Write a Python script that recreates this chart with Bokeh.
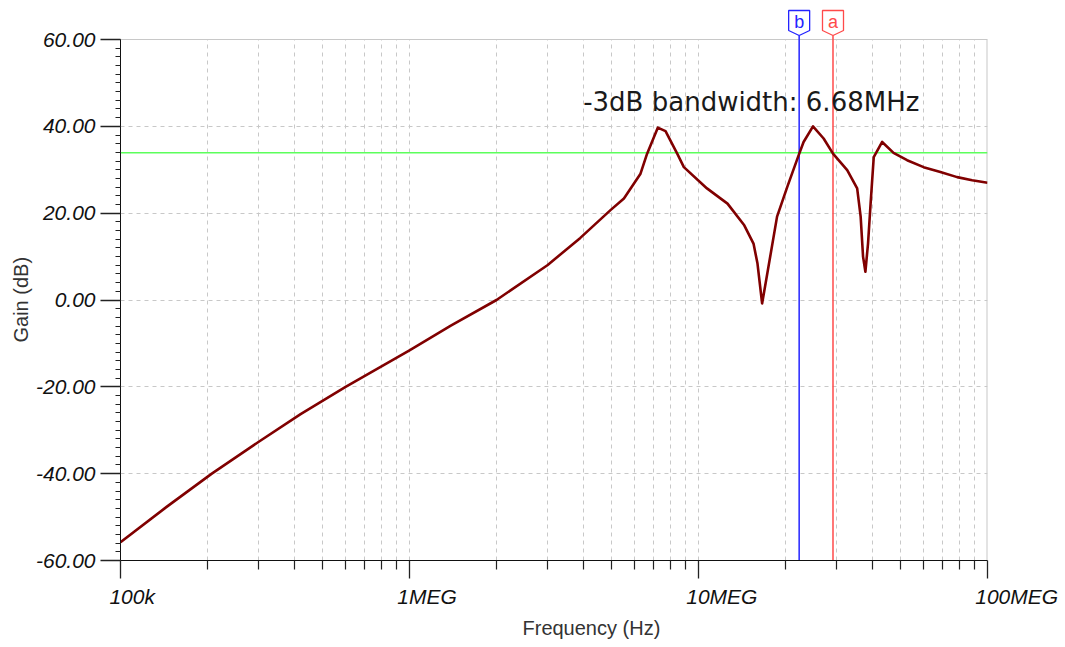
from bokeh.plotting import figure
from bokeh.models import (FixedTicker, PrintfTickFormatter, Span, Range1d,
                          ColumnDataSource, BoxAnnotation, Title, Label)
from bokeh.core.properties import value
from bokeh.embed import file_html
from bokeh.resources import INLINE

# ---- data ----
freq_hz = [100e3, 144e3, 207e3, 300e3, 420e3, 601e3, 1.0e6, 1.39e6,
           2.0e6, 3.0e6, 3.9e6, 4.96e6, 5.52e6, 6.3e6, 6.64e6, 7.23e6, 7.69e6,
           8.44e6, 8.9e6, 10.7e6, 12.6e6, 14.4e6, 15.5e6, 16.0e6, 16.6e6,
           17.3e6, 18.7e6, 20.3e6, 22.2e6, 23.1e6, 24.9e6, 27.1e6, 29.2e6,
           32.7e6, 35.4e6, 36.4e6, 37.1e6, 37.8e6, 38.6e6, 39.4e6, 40.4e6,
           43.2e6, 47.3e6, 52.7e6, 60.1e6, 68.7e6, 78.5e6, 88.5e6, 100e6]
gain_db = [-55.8, -47.7, -40.0, -32.7, -26.3, -20.0, -11.6, -5.9,
           0.0, 8.0, 14.3, 20.7, 23.4, 29.1, 33.7, 39.7, 38.9,
           33.7, 30.6, 25.7, 22.2, 17.2, 13.0, 8.4, -0.8,
           6.1, 19.2, 26.1, 33.3, 36.4, 40.0, 37.2, 33.7,
           29.9, 25.7, 19.2, 10.0, 6.5, 13.0, 22.2, 32.9,
           36.4, 33.9, 32.2, 30.6, 29.5, 28.3, 27.6, 27.0]

x_ticks = [1e5, 1e6, 1e7, 1e8]
x_tick_labels = ["100k", "1MEG", "10MEG", "100MEG"]
x_minor_ticks = [m * 10 ** d for d in range(5, 8) for m in range(2, 10)]
y_ticks = [-60, -40, -20, 0, 20, 40, 60]
y_minor_ticks = list(range(-60, 61, 2))

cursor_freqs = [22.3e6, 29.2e6]
cursor_names = ["b", "a"]
cursor_colors = ["#2424ff", "#ff4a4a"]
level_db = 33.9
note_text = "-3dB bandwidth: 6.68MHz"
note_pos = (3.99e6, 45.55)
x_title = "Frequency (Hz)"
y_title = "Gain (dB)"

# ---- geometry helpers (pixels) ----
Y_MIN, Y_MAX = -60, 60
PX_PER_DB = 521 / 120.0
TOP_PAD_PX = 31          # room above the 60 dB line for the cursor flags
y_end = Y_MAX + TOP_PAD_PX / PX_PER_DB
def px_above(px):        # data value that lies px pixels above the 60 dB line
    return Y_MAX + px / PX_PER_DB
half = 10 ** (10.5 / 289.0)

# x tick labels in the reference start just left of their tick; the axis
# centres them, so lead each with no-break spaces to push it right
NBSP = "\u00a0"
lead = [4, 6, 8, 10]
x_label_map = {t: NBSP * n + lab for t, lab, n in zip(x_ticks, x_tick_labels, lead)}

# ---- figure ----
p = figure(width=1065, height=647, x_axis_type="log",
           x_range=Range1d(1e5, 1e8), y_range=Range1d(Y_MIN, y_end),
           output_backend="svg", toolbar_location=None,
           min_border_left=120, min_border_right=78,
           min_border_top=39 - TOP_PAD_PX, min_border_bottom=87)
p.background_fill_color = "white"
p.border_fill_color = "white"
p.outline_line_color = None

xt = FixedTicker(ticks=x_ticks, minor_ticks=x_minor_ticks)
yt = FixedTicker(ticks=y_ticks, minor_ticks=y_minor_ticks)
p.xaxis.ticker = xt
p.yaxis.ticker = yt
p.xgrid.ticker = xt
p.ygrid.ticker = yt
p.yaxis.bounds = (Y_MIN, Y_MAX)

grid_col = "#c8c8c8"
p.xgrid.grid_line_color = grid_col
p.xgrid.grid_line_dash = "4 4"
p.xgrid.minor_grid_line_color = grid_col
p.xgrid.minor_grid_line_dash = "4 4"
p.ygrid.grid_line_color = grid_col
p.ygrid.grid_line_dash = "4 4"

for ax in (p.xaxis[0], p.yaxis[0]):
    ax.axis_line_color = "#111111"
    ax.major_tick_line_color = "#222222"
    ax.minor_tick_line_color = "#222222"
    ax.major_tick_in = 0
    ax.minor_tick_in = 0
    ax.major_tick_line_width = 1.3
    ax.minor_tick_line_width = 1.2
    ax.major_label_text_font = "Liberation Sans"
    ax.major_label_text_font_style = "italic"
    ax.major_label_text_font_size = "21px"
    ax.major_label_text_color = "#111111"

p.xaxis.major_tick_out = 18
p.xaxis.minor_tick_out = 9
p.xaxis.major_label_overrides = x_label_map
p.xaxis.major_label_standoff = 6

p.yaxis.major_tick_out = 20
p.yaxis.minor_tick_out = 5
p.yaxis.formatter = PrintfTickFormatter(format="%.2f")
p.yaxis.major_label_standoff = 5

p.add_layout(Title(text=y_title, align="left", offset=218, standoff=2,
                   text_font="Liberation Sans", text_font_style="normal",
                   text_font_size="20px", text_color="#333333"), "left")
p.add_layout(Title(text=x_title, align="left", offset=402, standoff=8,
                   text_font="Liberation Sans", text_font_style="normal",
                   text_font_size="20px", text_color="#333333"), "below")

# blank the strip above 60 dB (flag area), then frame lines
p.add_layout(BoxAnnotation(bottom=Y_MAX, fill_color="white", fill_alpha=1.0,
                           line_color=None, level="underlay"))
p.add_layout(Span(location=Y_MAX, dimension="width", line_color=grid_col,
                  line_width=1, level="underlay"))
p.segment(x0=[p.x_range.end], y0=[Y_MIN], x1=[p.x_range.end], y1=[Y_MAX],
          line_color=grid_col, line_width=2, level="underlay")

# green level line
p.add_layout(Span(location=level_db, dimension="width", line_color="#5cff5c",
                  line_width=1.6, level="underlay"))

# cursors
tip = px_above(4)
cur = ColumnDataSource(dict(
    f=cursor_freqs, name=cursor_names, color=cursor_colors,
    y0=[Y_MIN] * len(cursor_freqs), y1=[tip] * len(cursor_freqs),
    ty=[px_above(17.5)] * len(cursor_freqs),
    xs=[[f / half, f * half, f * half, f, f / half] for f in cursor_freqs],
    ys=[[px_above(29), px_above(29), px_above(9), tip, px_above(9)]
        for _ in cursor_freqs]))
p.segment(x0="f", y0="y0", x1="f", y1="y1", source=cur, line_color="color",
          line_width=1.5)
p.patches(xs="xs", ys="ys", source=cur, fill_color="white",
          line_color="color", line_width=1.3)
p.text(x="f", y="ty", text="name", source=cur, text_color="color",
       text_align="center", text_baseline="middle",
       text_font=value("Liberation Sans"), text_font_size="18px")

src = ColumnDataSource(dict(f=freq_hz, g=gain_db))
p.line("f", "g", source=src, line_color="#800000", line_width=2.6,
       line_join="round")

p.add_layout(Label(x=note_pos[0], y=note_pos[1], text=note_text,
                   text_align="left", text_baseline="alphabetic",
                   text_font="DejaVu Sans", text_font_size="26px",
                   text_color="#1a1a1a"))

open("out.html", "w").write(file_html(p, INLINE))
